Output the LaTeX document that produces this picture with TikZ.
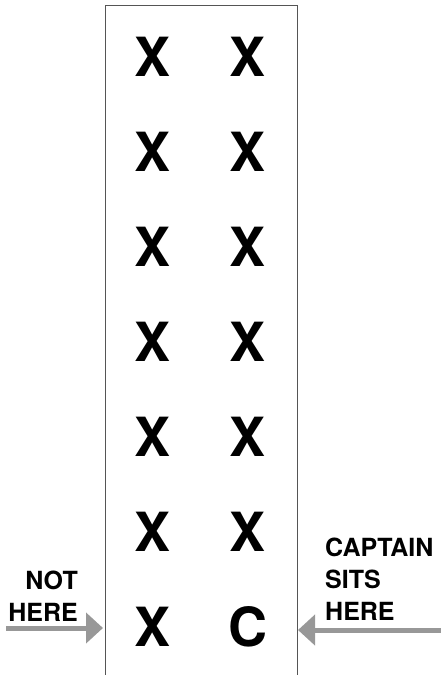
\documentclass[tikz,border=0pt]{standalone}
\usepackage{fontspec}
\setmainfont{TeX Gyre Heros}
\usetikzlibrary{arrows.meta,positioning}
\definecolor{arrowgray}{RGB}{152,152,152}
\definecolor{boxgray}{RGB}{85,85,85}
\begin{document}
\begin{tikzpicture}[x=1pt, y=-1pt, node distance=95pt, every node/.style={font=\bfseries\fontsize{54}{60}\selectfont, inner sep=0pt}, seatarrow/.style={draw=arrowgray, line width=5pt, -{Triangle[length=17pt, width=30pt]}}, note/.style={font=\bfseries\fontsize{25}{32}\selectfont}]
\useasboundingbox (0,0) rectangle (441,675);
\clip (0,0) rectangle (441,675);
\node[draw=boxgray, line width=1pt, minimum width=192pt, minimum height=700pt, anchor=north west] (cabin) at (105,5) {};
\node (left1) at (153,57) {X};
\node[below of=left1] (left2) {X};
\node[below of=left2] (left3) {X};
\node[below of=left3] (left4) {X};
\node[below of=left4] (left5) {X};
\node[below of=left5] (left6) {X};
\node[below of=left6] (left7) {X};
\node[right of=left1] (right1) {X};
\node[right of=left2] (right2) {X};
\node[right of=left3] (right3) {X};
\node[right of=left4] (right4) {X};
\node[right of=left5] (right5) {X};
\node[right of=left6] (right6) {X};
\node[right of=left7] (captain) {C};
\node[note, align=right, anchor=north east] (nothere) at (78,571) {NOT\\HERE};
\node[note, align=left, anchor=north west] (captainhere) at (325,538) {CAPTAIN\\SITS\\HERE};
\coordinate (notfrom) at (6,628);
\coordinate (notto) at (103,628);
\coordinate (capfrom) at (445,630);
\coordinate (capto) at (298,630);
\draw[seatarrow] (notfrom) -- (notto);
\draw[seatarrow] (capfrom) -- (capto);
\end{tikzpicture}
\end{document}
